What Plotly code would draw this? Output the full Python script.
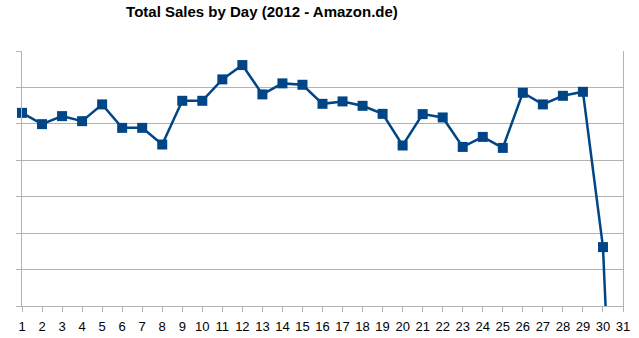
import plotly.graph_objects as go

days = list(range(1, 32))
sales = [5302, 4992, 5212, 5074, 5534, 4890, 4890, 4433, 5633, 5633,
         6221, 6614, 5809, 6111, 6073, 5550, 5616, 5495, 5275, 4406,
         5267, 5176, 4367, 4642, 4340, 5853, 5534, 5770, 5880, 1617,
         -10900]
x_ticks = list(range(1, 32))

title_text = "Total Sales by Day (2012 - Amazon.de)"
line_color = "#004586"
grid_color = "#b3b3b3"

fig = go.Figure()
fig.add_trace(go.Scatter(
    x=days, y=sales, mode="lines+markers",
    line=dict(color=line_color, width=2.5),
    marker=dict(symbol="square", size=10, color=line_color),
    cliponaxis=False, showlegend=False,
))

fig.update_layout(
    width=639, height=338,
    margin=dict(l=22, r=16, t=51, b=32, autoexpand=False),
    paper_bgcolor="white", plot_bgcolor="white",
    title=dict(text="<b>" + title_text + "</b>", x=262 / 639, xanchor="center", xref="container",
               y=1 - 12 / 338, yanchor="middle", yref="container",
               font=dict(family="Liberation Sans, Arial, sans-serif", size=15, color="black")),
    xaxis=dict(range=[1, 31], tickmode="array", tickvals=x_ticks, ticktext=[str(t) for t in x_ticks],
               showgrid=False, zeroline=False, showline=True, linecolor=grid_color, linewidth=1,
               ticks="outside", ticklen=5, tickcolor=grid_color, ticklabelstandoff=3,
               automargin=False,
               tickfont=dict(family="Liberation Sans, Arial, sans-serif", size=13, color="black")),
    yaxis=dict(range=[0, 7000], dtick=1000, tick0=0, showticklabels=False,
               showgrid=True, gridcolor=grid_color, gridwidth=1, zeroline=False,
               showline=True, mirror=True, linecolor=grid_color, linewidth=1,
               ticks="outside", ticklen=5, tickcolor=grid_color, automargin=False),
)

fig.write_html("out.html")
